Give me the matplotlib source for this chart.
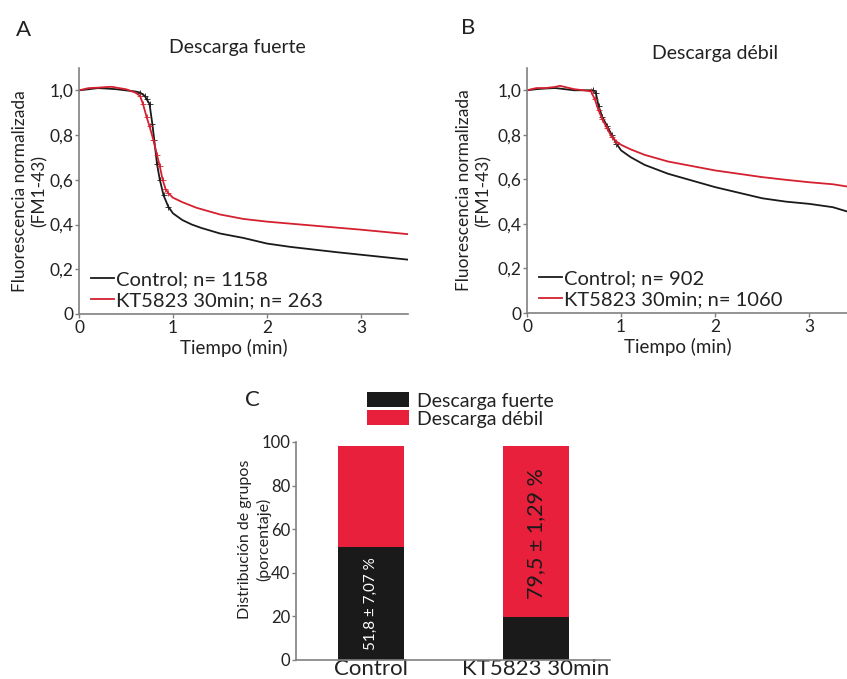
import numpy as np
import matplotlib
matplotlib.use("Agg")
import matplotlib.pyplot as plt
from matplotlib.ticker import FuncFormatter

plt.rcParams['font.family'] = ['Lato', 'DejaVu Sans']

# ==========================================
# DATA
# ==========================================

# Panel A - Descarga fuerte
a_ctrl_t = [0, 0.1, 0.2, 0.3, 0.4, 0.5, 0.6, 0.65, 0.7, 0.72, 0.75, 0.78, 0.8, 0.83, 0.86,
            0.9, 0.95, 1.0, 1.1, 1.2, 1.3, 1.5, 1.75, 2.0, 2.25, 2.5, 2.75, 3.0, 3.25, 3.5]
a_ctrl_y = [1.0, 1.005, 1.01, 1.008, 1.005, 1.0, 0.995, 0.99, 0.975, 0.96, 0.94, 0.85, 0.78, 0.67, 0.60,
            0.53, 0.48, 0.45, 0.42, 0.40, 0.385, 0.36, 0.34, 0.315, 0.30, 0.288, 0.276, 0.265, 0.254, 0.243]
a_kt_t = [0, 0.1, 0.2, 0.3, 0.35, 0.4, 0.5, 0.6, 0.65, 0.68, 0.72, 0.75, 0.79, 0.83, 0.86, 0.89,
          0.92, 0.95, 1.0, 1.1, 1.25, 1.5, 1.75, 2.0, 2.25, 2.5, 2.75, 3.0, 3.25, 3.5]
a_kt_y = [1.0, 1.01, 1.012, 1.015, 1.016, 1.012, 1.005, 0.99, 0.975, 0.94, 0.88, 0.84, 0.78, 0.71, 0.66, 0.60,
          0.56, 0.54, 0.52, 0.50, 0.475, 0.445, 0.425, 0.413, 0.404, 0.395, 0.386, 0.377, 0.367, 0.357]

# Panel B - Descarga débil
b_ctrl_t = [0, 0.1, 0.2, 0.3, 0.4, 0.5, 0.6, 0.7, 0.73, 0.76, 0.8, 0.85, 0.9, 0.95, 1.0,
            1.1, 1.25, 1.5, 1.75, 2.0, 2.25, 2.5, 2.75, 3.0, 3.25, 3.4]
b_ctrl_y = [1.0, 1.005, 1.008, 1.01, 1.005, 1.0, 1.0, 1.0, 0.99, 0.93, 0.88, 0.84, 0.80, 0.76, 0.73,
            0.70, 0.665, 0.625, 0.595, 0.565, 0.54, 0.515, 0.50, 0.49, 0.475, 0.456]
b_kt_t = [0, 0.1, 0.2, 0.3, 0.35, 0.4, 0.5, 0.6, 0.68, 0.72, 0.76, 0.8, 0.85, 0.9, 0.95, 1.0,
          1.1, 1.25, 1.5, 1.75, 2.0, 2.25, 2.5, 2.75, 3.0, 3.25, 3.4]
b_kt_y = [1.0, 1.01, 1.01, 1.015, 1.02, 1.015, 1.005, 1.0, 0.995, 0.96, 0.91, 0.87, 0.83, 0.79, 0.77, 0.755,
          0.735, 0.71, 0.68, 0.66, 0.64, 0.625, 0.61, 0.598, 0.587, 0.578, 0.568]

a_labels = ["Control; n= 1158", "KT5823 30min; n= 263"]
b_labels = ["Control; n= 902", "KT5823 30min; n= 1060"]

# Panel C - distribution
groups = ["Control", "KT5823 30min"]
fuerte = [51.8, 19.7]
debil = [46.4, 78.5]
bar_texts = ["51,8 ± 7,07 %", "79,5 ± 1,29 %"]

# ==========================================
# STYLE
# ==========================================
W, H = 847, 679
BLACK = "#1a1a1a"
RED_LINE = "#d4202f"
RED_BAR = "#e8203c"
SPINE = "#808080"
TXT = "#222222"


def comma_fmt(v, pos):
    if abs(v) < 1e-9:
        return "0"
    return f"{v:.1f}".replace(".", ",")


def style_axes(ax, labelsize=12.5):
    for s in ["top", "right"]:
        ax.spines[s].set_visible(False)
    for s in ["left", "bottom"]:
        ax.spines[s].set_color(SPINE)
        ax.spines[s].set_linewidth(1.2)
    ax.tick_params(colors=SPINE, labelcolor=TXT, length=3, width=1, labelsize=labelsize, pad=1)


def curve_panel(ax, ct, cy, kt, ky, labels, xmax, ylab_x):
    for t, y, color, lab in [(ct, cy, BLACK, labels[0]), (kt, ky, RED_LINE, labels[1])]:
        t, y = np.asarray(t), np.asarray(y)
        ax.plot(t, y, color=color, lw=1.3, label=lab)
        # error ticks drawn on the steep part only
        drop = (t > 0.6) & (t < 1.0)
        ax.plot(t[drop], y[drop], ls="none", color=color, marker="+", ms=4, mew=0.6)
    ax.set_xlim(0, xmax)
    ax.set_ylim(0, 1.1)
    ax.set_yticks([0, 0.2, 0.4, 0.6, 0.8, 1.0])
    ax.set_xticks([0, 1, 2, 3])
    ax.yaxis.set_major_formatter(FuncFormatter(comma_fmt))
    style_axes(ax)
    ax.set_xlabel("Tiempo (min)", fontsize=13.5, color=TXT)
    ax.xaxis.set_label_coords(0.47, -0.1)
    ax.set_ylabel("Fluorescencia normalizada\n(FM1-43)", fontsize=12.5, color=TXT,
                  linespacing=1.3)
    ax.yaxis.set_label_coords(ylab_x, 0.5)
    leg = ax.legend(loc="lower left", bbox_to_anchor=(0.0, -0.03), frameon=False,
                    fontsize=14.5, handlelength=1.15, handletextpad=0.1,
                    labelspacing=0.2, borderaxespad=0.2)
    for t in leg.get_texts():
        t.set_color(TXT)


fig = plt.figure(figsize=(W / 100, H / 100), dpi=100)

# Panel A
axA = fig.add_axes([79 / W, 1 - 314 / H, (408 - 79) / W, (314 - 68) / H])
curve_panel(axA, a_ctrl_t, a_ctrl_y, a_kt_t, a_kt_y, a_labels, 3.5, -0.095)
fig.text(237 / W, 1 - 47 / H, "Descarga fuerte", ha="center", va="center", fontsize=14, color=TXT)
fig.text(16 / W, 1 - 30 / H, "A", ha="left", va="center", fontsize=16, color=TXT)

# Panel B
axB = fig.add_axes([527 / W, 1 - 313 / H, (847 - 527) / W, (313 - 68) / H])
curve_panel(axB, b_ctrl_t, b_ctrl_y, b_kt_t, b_kt_y, b_labels, 3.4, -0.11)
fig.text(715 / W, 1 - 53 / H, "Descarga débil", ha="center", va="center", fontsize=14, color=TXT)
fig.text(461 / W, 1 - 28 / H, "B", ha="left", va="center", fontsize=16, color=TXT)

# Panel C
axC = fig.add_axes([296 / W, 1 - 660 / H, (610 - 296) / W, (660 - 442) / H])
x = np.arange(len(groups))
axC.bar(x, fuerte, width=0.4, color=BLACK, label="Descarga fuerte")
axC.bar(x, debil, width=0.4, bottom=fuerte, color=RED_BAR, label="Descarga débil")
axC.set_xlim(-0.455, 1.45)
axC.set_ylim(0, 100)
axC.set_yticks([0, 20, 40, 60, 80, 100])
axC.set_xticks(x)
axC.set_xticklabels(groups)
style_axes(axC, labelsize=12)
axC.tick_params(axis="x", length=0, pad=-1, labelsize=16)
axC.set_ylabel("Distribución de grupos\n(porcentaje)", fontsize=11.5, color=TXT, linespacing=1.35)
axC.yaxis.set_label_coords(-0.08, 0.555)
axC.text(x[0], fuerte[0] / 2, bar_texts[0], rotation=90, ha="center", va="center",
         color="white", fontsize=11)
axC.text(x[1], fuerte[1] + debil[1] / 2 - 1, bar_texts[1], rotation=90, ha="center", va="center",
         color=BLACK, fontsize=15.5)
legC = axC.legend(loc="lower left", bbox_to_anchor=(0.2, 1.03), frameon=False, fontsize=14,
                  handlelength=2.2, handleheight=0.8, handletextpad=0.4, labelspacing=0.05,
                  borderaxespad=0.0)
for t in legC.get_texts():
    t.set_color(TXT)
fig.text(245 / W, 1 - 400 / H, "C", ha="left", va="center", fontsize=16, color=TXT)

fig.savefig("out.png", dpi=100)
